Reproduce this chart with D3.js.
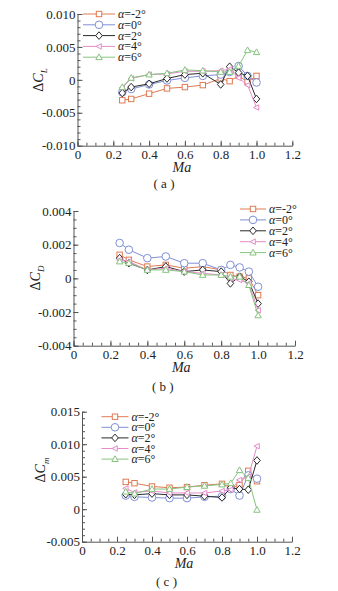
<!DOCTYPE html>
<html>
<head>
<meta charset="utf-8">
<script src="https://cdn.jsdelivr.net/npm/d3@7"></script>
<style>
  body { margin: 0; background: #fff; }
  svg { display: block; }
  text { font-family: "Liberation Serif", "Times New Roman", "DejaVu Serif", serif; fill: #222; }
</style>
</head>
<body>
<div id="chart"></div>
<script>
// Mach numbers shared by every series
var ma = [0.25, 0.3, 0.4, 0.5, 0.6, 0.7, 0.8, 0.85, 0.9, 0.95, 1.0];
var alphaLabels = ["-2°", "0°", "2°", "4°", "6°"];

// (a) delta CL
var clM2 = [-0.0031, -0.0029, -0.0021, -0.0013, -0.0011, -0.0008, 0.0002, -0.0002, 0.0006, -0.0003, 0.0006];
var cl0  = [-0.0019, -0.0014, -0.0007, -0.0001, 0.0003, 0.0006, 0.0008, 0.0012, 0.0021, 0.0006, -0.0004];
var cl2  = [-0.0020, -0.0011, -0.0006, 0.0002, 0.0008, 0.0010, -0.0007, 0.0020, 0.0011, 0.0006, -0.0029];
var cl4  = [-0.0012, 0.0002, 0.0008, 0.0009, 0.0013, 0.0013, 0.0014, 0.0016, 0.0003, -0.0008, -0.0042];
var cl6  = [-0.0011, 0.0003, 0.0008, 0.0010, 0.0015, 0.0014, 0.0012, 0.0012, 0.0021, 0.0045, 0.0042];

// (b) delta CD
var cdM2 = [0.0014, 0.0011, 0.0007, 0.0008, 0.0006, 0.0007, 0.0005, 0.0002, 0.0001, 0.0000, -0.0010];
var cd0  = [0.0021, 0.0017, 0.0012, 0.0013, 0.0009, 0.0009, 0.0005, 0.0008, 0.00065, 0.0004, -0.0005];
var cd2  = [0.0012, 0.0009, 0.0005, 0.0007, 0.0004, 0.0005, 0.0004, -0.0003, 0.0001, -0.0002, -0.0015];
var cd4  = [0.0011, 0.0010, 0.0005, 0.0006, 0.0004, 0.0003, 0.0002, 0.0000, -0.0001, -0.0003, -0.0019];
var cd6  = [0.0010, 0.0009, 0.0005, 0.0005, 0.0004, 0.0002, 0.0002, 0.0001, 0.0001, -0.0004, -0.0022];

// (c) delta Cm
var cmM2 = [0.0042, 0.0040, 0.0035, 0.0033, 0.0034, 0.0037, 0.0039, 0.0033, 0.0037, 0.0059, 0.0043];
var cm0  = [0.0021, 0.0019, 0.0018, 0.0017, 0.0017, 0.0019, 0.0020, 0.0031, 0.0021, 0.0052, 0.0047];
var cm2  = [0.0023, 0.0022, 0.0024, 0.0022, 0.0022, 0.0020, 0.0018, 0.0033, 0.0031, 0.0030, 0.0075];
var cm4  = [0.0032, 0.0026, 0.0028, 0.0025, 0.0025, 0.0025, 0.0028, 0.0030, 0.0045, 0.0050, 0.0097];
var cm6  = [0.0027, 0.0024, 0.0031, 0.0031, 0.0034, 0.0036, 0.0038, 0.0040, 0.0060, 0.0048, -0.0001];

var colors = ["#df7a52", "#7f90d6", "#2a2a2a", "#e48bc8", "#86c47f"];
var symbols = ["square", "circle", "diamond", "left", "triangle"];

var svg = d3.select("#chart").append("svg")
    .attr("width", 338)
    .attr("height", 591);

function translate(x, y){
    return "translate(" + x + "," + y + ")";
}

function marker(g, type, color, x, y){
    if(type == "square"){
        g.append("rect").attr("x", x - 2.7).attr("y", y - 2.7).attr("width", 5.4).attr("height", 5.4)
            .attr("fill", "#fff").attr("stroke", color);
    } else if(type == "circle"){
        g.append("circle").attr("cx", x).attr("cy", y).attr("r", 3.8)
            .attr("fill", "#fff").attr("stroke", color);
    } else if(type == "diamond"){
        g.append("path").attr("d", "M" + x + "," + (y - 3.8) + "L" + (x + 3.3) + "," + y + "L" + x + "," + (y + 3.8) + "L" + (x - 3.3) + "," + y + "Z")
            .attr("fill", "#fff").attr("stroke", color);
    } else if(type == "left"){
        g.append("path").attr("d", "M" + (x - 3) + "," + y + "L" + (x + 2.3) + "," + (y - 2.7) + "L" + (x + 2.3) + "," + (y + 2.7) + "Z")
            .attr("fill", "#fff").attr("stroke", color);
    } else {
        g.append("path").attr("d", "M" + x + "," + (y - 3.3) + "L" + (x + 3.2) + "," + (y + 2.4) + "L" + (x - 3.2) + "," + (y + 2.4) + "Z")
            .attr("fill", "#fff").attr("stroke", color);
    }
}

function drawPanel(p){
    var x = d3.scaleLinear().domain([0, 1.2]).range([p.left, p.right]);
    var y = d3.scaleLinear().domain(p.yDomain).range([p.bottom, p.top]);
    var g = svg.append("g");

    // minor ticks first
    var xAxisMinor = d3.axisTop(x).tickValues(d3.range(0, 1.2001, 0.05)).tickSize(3).tickFormat("");
    g.append("g").attr("transform", translate(0, p.bottom)).call(xAxisMinor)
        .call(function(s){ s.select(".domain").remove(); });
    var yAxisMinor = d3.axisRight(y).tickValues(d3.range(p.yDomain[0], p.yDomain[1] + 1e-9, p.yMinor)).tickSize(3).tickFormat("");
    g.append("g").attr("transform", translate(p.left, 0)).call(yAxisMinor)
        .call(function(s){ s.select(".domain").remove(); });

    var xAxis = d3.axisTop(x).tickValues([0, 0.2, 0.4, 0.6, 0.8, 1.0, 1.2]).tickSize(5).tickSizeOuter(0);
    var xg = g.append("g").attr("transform", translate(0, p.bottom)).call(xAxis);
    xg.selectAll(".tick text")
        .text(function(d){ return d == 0 ? "0" : d3.format(".1f")(d); })
        .attr("y", 13).attr("dy", "0");

    var yAxis = d3.axisRight(y).tickValues(p.yTicks).tickSize(5).tickSizeOuter(0);
    var yg = g.append("g").attr("transform", translate(p.left, 0)).call(yAxis);
    yg.selectAll(".tick text")
        .text(function(d){ return Math.abs(d) < 1e-12 ? "0" : d3.format(".3f")(d).replace("−", "-"); })
        .attr("x", -2).attr("text-anchor", "end");

    g.selectAll(".domain, .tick line").attr("stroke", "#555");
    g.selectAll(".tick text").attr("font-size", 13).attr("fill", "#222");

    // axis titles
    g.append("text").attr("x", (x(0) + x(1.2)) / 2 - 3).attr("y", p.bottom + 26)
        .attr("text-anchor", "middle").attr("font-size", 14).attr("font-style", "italic").text("Ma");
    var yl = g.append("text").attr("transform", translate(p.yLabelX, p.yLabelY) + " rotate(-90)")
        .attr("text-anchor", "middle").attr("font-size", 14);
    yl.append("tspan").text("Δ");
    yl.append("tspan").attr("font-style", "italic").text("C");
    yl.append("tspan").attr("font-style", "italic").attr("font-size", 9).attr("dy", 4).text(p.sub);

    g.append("text").attr("x", x(0.5) - 3).attr("y", p.captionY).attr("text-anchor", "middle")
        .attr("font-size", 13).attr("xml:space", "preserve")
        .text("( " + p.caption + " )");

    // series
    var line = d3.line().x(function(d){ return x(d[0]); }).y(function(d){ return y(d[1]); });
    p.series.forEach(function(vals, i){
        var pts = ma.map(function(m, j){ return [m, vals[j]]; });
        g.append("path").datum(pts).attr("d", line)
            .attr("fill", "none").attr("stroke", colors[i]).attr("stroke-width", 1);
        pts.forEach(function(d){ marker(g, symbols[i], colors[i], x(d[0]), y(d[1])); });
    });

    // legend
    alphaLabels.forEach(function(lab, i){
        var ly = p.legY + i * p.legDy;
        g.append("line").attr("x1", p.legX).attr("x2", p.legX + p.legW)
            .attr("y1", ly).attr("y2", ly).attr("stroke", colors[i]);
        marker(g, symbols[i], colors[i], p.legX + p.legW / 2, ly);
        var t = g.append("text").attr("x", p.legX + p.legW + 3).attr("y", ly + 4).attr("font-size", 12);
        t.append("tspan").attr("font-style", "italic").text("α");
        t.append("tspan").text("=" + lab);
    });
}

drawPanel({
    left: 77.5, right: 292.3, top: 14, bottom: 145.7,
    yDomain: [-0.010, 0.010], yTicks: [-0.010, -0.005, 0, 0.005, 0.010], yMinor: 0.001,
    yLabelX: 43, yLabelY: 80, sub: "L", captionY: 188, caption: "a",
    series: [clM2, cl0, cl2, cl4, cl6],
    legX: 83, legW: 32, legY: 14, legDy: 10.8
});

drawPanel({
    left: 73.5, right: 295, top: 211, bottom: 345.7,
    yDomain: [-0.004, 0.004], yTicks: [-0.004, -0.002, 0, 0.002, 0.004], yMinor: 0.0005,
    yLabelX: 40, yLabelY: 278, sub: "D", captionY: 391, caption: "b",
    series: [cdM2, cd0, cd2, cd4, cd6],
    legX: 240, legW: 26, legY: 209, legDy: 10.9
});

drawPanel({
    left: 82, right: 292, top: 411.7, bottom: 541.7,
    yDomain: [-0.005, 0.015], yTicks: [-0.005, 0, 0.005, 0.010, 0.015], yMinor: 0.001,
    yLabelX: 45, yLabelY: 470, sub: "m", captionY: 586, caption: "c",
    series: [cmM2, cm0, cm2, cm4, cm6],
    legX: 101.5, legW: 27, legY: 416.7, legDy: 10.6
});
</script>
</body>
</html>
